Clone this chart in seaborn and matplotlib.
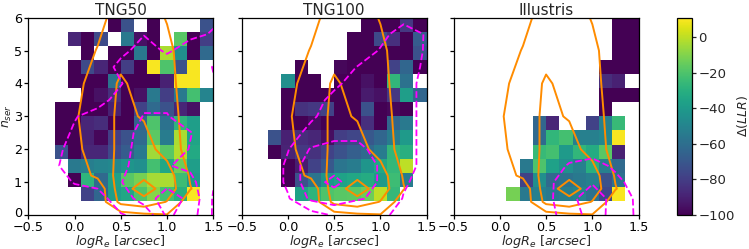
import numpy as np
import matplotlib
matplotlib.use("Agg")
import matplotlib.pyplot as plt
import matplotlib.transforms as mtransforms
import seaborn as sns

N = np.nan

# binned Delta(LLR); 14 x 14 bins over logRe [-0.5, 1.5] and n_ser [0, 6]
# rows listed from the top bin (n_ser ~ 6) down to the bottom bin (n_ser ~ 0)
tng50_llr = [
    [N, N, N, N, N, N, -100, -72, N, -100, N, N, N, -72],
    [N, N, N, -88, -100, -75, N, -55, -95, -100, N, -18, -100, -80],
    [N, N, N, N, -100, N, -100, -100, -55, -100, -3, -45, -100, -62],
    [N, N, N, -100, -75, -88, -100, -80, -100, 10, -20, -72, 10, N],
    [N, N, N, -100, -100, -100, -58, -100, -100, -100, -90, 10, 10, N],
    [N, N, N, N, -100, -95, -85, -100, -95, -55, -80, -55, -22, -50],
    [N, N, -100, -100, -100, -100, -90, -100, -78, -62, -72, -88, -95, N],
    [N, N, -100, -100, -88, -86, -100, -100, -65, -20, -58, -28, -38, N],
    [N, N, -100, -100, -90, -98, -80, -72, -62, -17, -54, -3, -35, N],
    [N, N, -72, -100, -88, -88, -76, -68, -55, -5, -18, -2, -33, N],
    [N, N, N, -55, -53, -50, -48, -42, -45, -22, -34, -14, -38, N],
    [N, N, N, -100, -28, -62, -37, -18, -12, -4, -3, -24, -40, N],
    [N, N, N, N, -78, -64, -38, -34, -20, -9, -22, -30, 10, N],
    [N] * 14,
]
tng100_llr = [
    [N, N, N, N, N, N, N, N, N, -100, -100, -100, -82, -100],
    [N, N, N, N, N, N, N, N, -100, -100, -75, -85, -100, -68],
    [N, N, N, N, N, N, N, N, -100, -100, -100, -100, -100, -72],
    [N, N, N, N, -100, N, N, -98, -100, -100, -100, -78, -64, -100],
    [N, N, N, -45, -100, -100, N, -100, -100, -95, -100, -27, -58, N],
    [N, N, N, -100, -100, -100, -100, -100, -100, -92, -95, -82, -38, -64],
    [N, N, N, -100, -84, -82, -78, -100, -100, -72, -100, -98, -100, N],
    [N, N, N, -100, -100, -96, -100, -100, -100, -85, -100, -64, -55, N],
    [N, N, -72, -90, -86, -88, -96, -80, -77, -70, -64, -54, -40, N],
    [N, N, -100, -89, -82, -84, -78, -72, -67, -62, -54, -27, -30, N],
    [N, N, N, -100, -91, -78, -70, -57, -54, -42, -34, -26, 0, N],
    [N, N, N, -100, -72, -57, -42, -36, -34, -32, -40, -24, -54, N],
    [N, N, N, N, -36, -28, -20, -18, -17, -14, 0, -26, N, N],
    [N] * 14,
]
illustris_llr = [
    [N] * 12 + [-100, -100],
    [N] * 12 + [-100, -100],
    [N] * 12 + [-100, -100],
    [N] * 11 + [-100, -100, -100],
    [N] * 11 + [-86, -90, N],
    [N] * 11 + [-100, -100, -100],
    [N] * 11 + [-100, N, N],
    [N, N, N, N, N, N, -64, -88, N, N, -78, -52, -25, N],
    [N, N, N, N, N, N, -62, -27, -22, -52, -52, -48, 10, N],
    [N, N, N, N, N, N, -25, -22, -40, -27, -32, -18, -90, N],
    [N, N, N, N, N, -55, -20, -37, -45, -52, -30, -52, -62, N],
    [N, N, N, N, N, -78, -45, -62, -58, -55, -52, -72, -58, N],
    [N, N, N, N, -12, -55, -52, -55, -53, -50, -58, -76, 10, N],
    [N] * 14,
]

# density grids for the contours (rows from n_ser = 0 upwards)
grid_x = [-0.5, -0.25, 0.0, 0.25, 0.5, 0.75, 1.0, 1.25, 1.5]
obs_grid_y = [0, 0.4, 0.8, 1.2, 2, 3, 4, 5, 6]
obs_density = [
    [0, 0, 0, 0.1, 0.57, 0.8, 0.95, 0.3, 0.0],
    [0.0, 0.05, 0.1, 0.3, 2.3, 2.7, 1.95, 0.4, 0.1],
    [0.0, 0.1, 0.2, 0.3, 2.6, 3.4, 2.6, 1.05, 0.2],
    [0.05, 0.2, 0.5, 1.2, 2.4, 2.8, 2.5, 0.9, 0.3],
    [0.1, 0.4, 0.75, 1.5, 2.2, 2.4, 1.6, 0.6, 0.3],
    [0.1, 0.5, 0.9, 1.5, 2.2, 1.93, 1.4, 0.6, 0.3],
    [0.1, 0.4, 0.8, 1.3, 2.15, 1.6, 1.25, 0.6, 0.3],
    [0.1, 0.3, 0.5, 1.05, 1.6, 1.6, 1.2, 0.5, 0.3],
    [0.1, 0.2, 0.4, 0.7, 1.45, 1.4, 0.95, 0.5, 0.3],
]
sim_grid_y = [0, 0.5, 1.0, 1.5, 2.0, 2.5, 3.0, 3.5, 4.0, 4.5, 5.0, 5.5, 6.0]
tng50_density = [
    [0, 0.1, 0.3, 0.5, 0.95, 1.2, 3.2, 2.5, 0.9],
    [0, 0.3, 0.6, 0.7, 1.4, 2.5, 3.5, 2.76, 0.9],
    [0.1, 0.6, 1.05, 1.2, 1.95, 2.8, 2.7, 2.3, 1.1],
    [0.2, 0.8, 1.4, 1.5, 1.7, 2.6, 2.05, 1.8, 1.3],
    [0.1, 0.7, 1.3, 1.5, 1.6, 2.5, 2.6, 1.95, 1.4],
    [0.1, 0.6, 1.1, 1.4, 1.5, 2.4, 2.5, 2.05, 1.4],
    [0, 0.3, 0.95, 1.3, 1.3, 2.05, 2.05, 1.5, 1.3],
    [0, 0.1, 0.5, 0.7, 1.3, 1.8, 1.8, 1.7, 1.3],
    [0, 0, 0.3, 0.6, 0.95, 1.6, 1.6, 1.7, 1.1],
    [0, 0, 0.2, 0.5, 1.23, 1.6, 1.4, 1.8, 0.95],
    [0, 0, 0.1, 0.3, 0.8, 1.3, 0.9, 1.3, 1.4],
    [0, 0, 0, 0.2, 0.6, 0.97, 0.8, 0.85, 1.05],
    [0, 0, 0, 0.1, 0.3, 0.6, 0.6, 0.7, 0.9],
]
tng100_density = [
    [0, 0, 0.3, 0.6, 1.1, 1.1, 1.2, 0.7, 0.5],
    [0, 0.1, 0.9, 2.2, 2.6, 2.1, 1.8, 0.95, 0.6],
    [0, 0.2, 1.2, 2.7, 3.2, 2.6, 1.9, 1.1, 0.7],
    [0, 0.2, 1.2, 2.7, 2.7, 2.6, 1.9, 1.25, 0.8],
    [0, 0.3, 0.95, 2.1, 2.4, 2.3, 1.6, 1.25, 0.8],
    [0, 0.2, 0.7, 1.2, 1.6, 1.7, 1.6, 1.25, 0.8],
    [0, 0.1, 0.5, 0.9, 1.3, 1.6, 1.6, 1.25, 0.8],
    [0, 0, 0.3, 0.7, 1.2, 1.5, 1.5, 1.25, 0.8],
    [0, 0, 0.2, 0.5, 0.85, 1.3, 1.4, 1.25, 0.8],
    [0, 0, 0.1, 0.3, 0.6, 1.02, 1.3, 1.5, 0.8],
    [0, 0, 0, 0.2, 0.4, 0.6, 1.05, 1.5, 0.9],
    [0, 0, 0, 0.1, 0.3, 0.6, 0.8, 1.3, 0.95],
    [0, 0, 0, 0, 0.1, 0.3, 0.6, 0.8, 0.8],
]
illustris_density = [
    [0, 0, 0, 0.3, 0.6, 1.5, 2.4, 1.7, 0.8],
    [0, 0, 0, 0.3, 0.7, 1.7, 2.6, 1.6, 0.8],
    [0, 0, 0, 0.2, 0.6, 1.8, 1.9, 1.3, 0.5],
    [0, 0, 0, 0.1, 0.4, 1.1, 1.4, 0.8, 0.2],
    [0, 0, 0, 0, 0.2, 0.5, 0.5, 0.3, 0],
] + [[0] * 9 for _ in range(8)]

panel_names = ["TNG50", "TNG100", "Illustris"]
panel_llr = [tng50_llr, tng100_llr, illustris_llr]
panel_density = [tng50_density, tng100_density, illustris_density]

x_ticks = [-0.5, 0.0, 0.5, 1.0, 1.5]
y_ticks = [0, 1, 2, 3, 4, 5, 6]
cbar_ticks = [0, -20, -40, -60, -80, -100]


def to_col(x):
    # logRe -> heatmap column coordinate
    return (np.asarray(x, float) + 0.5) * 7


def to_row(y):
    # n_ser -> heatmap row coordinate (row 0 at the top)
    return (6 - np.asarray(y, float)) * 7 / 3


def minus(v, fmt):
    return fmt.format(v).replace("-", "\u2212")


sns.set_style("ticks")
plt.rcParams["font.family"] = ["DejaVu Sans"]
plt.rcParams["mathtext.fontset"] = "dejavusans"

fig = plt.figure(figsize=(7.49, 2.49), dpi=100)
lefts = [0.0378, 0.3227, 0.6056]
axes = [fig.add_axes([l, 0.1365, 0.247, 0.7924]) for l in lefts]
cax = fig.add_axes([0.9039, 0.1365, 0.02, 0.7924])

ox, oy = np.meshgrid(to_col(grid_x), to_row(obs_grid_y))
sx, sy = np.meshgrid(to_col(grid_x), to_row(sim_grid_y))

for i, ax in enumerate(axes):
    sns.heatmap(
        np.array(panel_llr[i], dtype=float),
        ax=ax,
        cmap="viridis",
        vmin=-100,
        vmax=11,
        cbar=(i == 0),
        cbar_ax=cax if i == 0 else None,
        xticklabels=False,
        yticklabels=False,
    )
    ax.contour(ox, oy, np.array(obs_density), levels=[1, 2, 3],
               colors="darkorange", linewidths=1.4)
    ax.contour(sx, sy, np.array(panel_density[i]), levels=[1, 2, 3],
               colors="magenta", linestyles="--", linewidths=1.3)

    ax.set_xlim(0, 14)
    ax.set_ylim(14, 0)
    for s in ax.spines.values():
        s.set_visible(True)
        s.set_color("black")
        s.set_linewidth(0.9)

    ax.set_xticks(to_col(x_ticks))
    ax.set_xticklabels([minus(v, "{:.1f}") for v in x_ticks], rotation=0)
    ax.set_yticks(to_row(y_ticks))
    if i == 0:
        ax.set_yticklabels([str(v) for v in y_ticks], rotation=0)
        ax.set_ylabel(r"$n_{ser}$", fontsize=9, labelpad=0)
    else:
        ax.set_yticklabels([])
    ax.tick_params(axis="x", pad=1)
    ax.tick_params(axis="y", pad=1.5)
    ax.tick_params(direction="out", length=3, width=0.9, labelsize=9.2,
                   bottom=True, left=True, colors="black")
    ax.set_xlabel(r"$logR_e$ $[arcsec]$", fontsize=9.2, labelpad=-0.5)
    ax.set_title(panel_names[i], fontsize=11, pad=2)

# nudge the bottom "0" label up a little so it clears the "-0.5" below it
zero_label = axes[0].get_yticklabels()[0]
zero_label.set_transform(zero_label.get_transform()
                         + mtransforms.ScaledTranslation(0, 2.5 / 72, fig.dpi_scale_trans))

cb = axes[0].collections[0].colorbar
cb.outline.set_visible(True)
cb.outline.set_linewidth(0.9)
cb.outline.set_edgecolor("black")
cb.set_ticks(cbar_ticks)
cb.set_ticklabels([minus(v, "{:d}") for v in cbar_ticks])
cax.tick_params(direction="out", length=3, width=0.9, labelsize=9.5, right=True, pad=1.5)
cb.set_label(r"$\Delta(LLR)$", fontsize=9, labelpad=0)

fig.savefig("out.png", dpi=100)
